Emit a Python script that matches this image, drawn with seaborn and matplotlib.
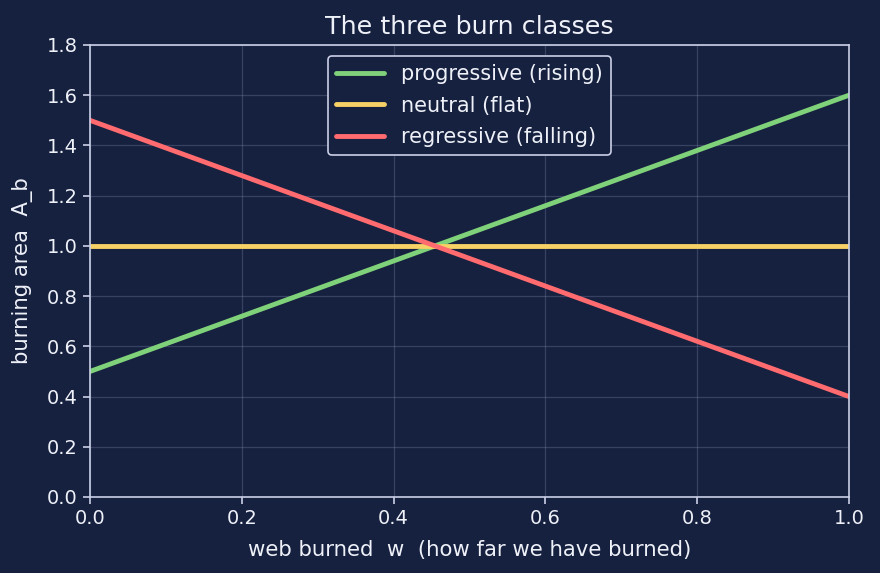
import numpy as np
import pandas as pd
import seaborn as sns
import matplotlib
matplotlib.use("Agg")
import matplotlib.pyplot as plt

# Data
web = [0.0, 1.0]
progressive = [0.5, 1.6]
neutral = [1.0, 1.0]
regressive = [1.5, 0.4]
labels = ["progressive (rising)", "neutral (flat)", "regressive (falling)"]
colors = ["#7fd27a", "#f6d165", "#ff6b6f"]

bg = "#16203f"
fg = "#eef1f8"
spine = "#c9d0e6"

sns.set_theme(style="dark")
plt.rcParams['font.family'] = ['DejaVu Sans']

fig = plt.figure(figsize=(8.8, 5.73), dpi=100, facecolor=bg)
ax = fig.add_axes([90/880, 1 - 497/573, (849-90)/880, (497-45)/573])
ax.set_facecolor(bg)

df = pd.DataFrame({
    "w": web * 3,
    "A": progressive + neutral + regressive,
    "cls": [labels[0]] * 2 + [labels[1]] * 2 + [labels[2]] * 2,
})
sns.lineplot(data=df, x="w", y="A", hue="cls", palette=dict(zip(labels, colors)),
             linewidth=3.5, ax=ax, legend=True)

ax.set_xlim(0, 1)
ax.set_ylim(0, 1.8)
ax.set_xticks(np.arange(0, 1.01, 0.2))
ax.set_yticks(np.arange(0, 1.81, 0.2))
ax.xaxis.set_major_formatter(matplotlib.ticker.FormatStrFormatter('%.1f'))
ax.yaxis.set_major_formatter(matplotlib.ticker.FormatStrFormatter('%.1f'))
ax.grid(True, color="#8890b0", alpha=0.3, linewidth=0.9)
ax.tick_params(colors=spine, labelcolor=fg, labelsize=14, length=5, width=1.2,
               bottom=True, left=True, pad=4)
for s in ax.spines.values():
    s.set_visible(True)
    s.set_color(spine)
    s.set_linewidth(1.2)

ax.set_title("The three burn classes", color=fg, fontsize=18.3, pad=8)
ax.set_xlabel("web burned  w  (how far we have burned)", color=fg, fontsize=15.3, labelpad=8)
ax.set_ylabel("burning area  A_b", color=fg, fontsize=15.3, labelpad=10)

leg = ax.legend(loc="upper center", fontsize=15, facecolor=bg, edgecolor=spine,
                framealpha=1, labelcolor=fg, handlelength=2.3, borderpad=0.4,
                labelspacing=0.55, bbox_to_anchor=(0.5, 0.999))
leg.get_frame().set_linewidth(1.2)

fig.savefig("out.png", dpi=100, facecolor=bg)
